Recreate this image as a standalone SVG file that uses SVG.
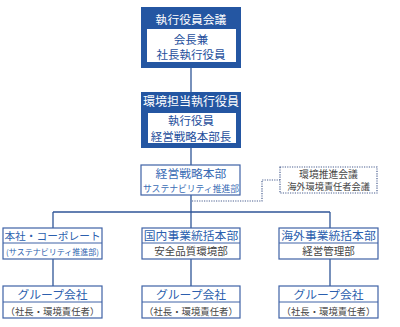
<svg xmlns="http://www.w3.org/2000/svg" width="400" height="327" viewBox="0 0 400 327">
<style>
text{font-family:"Noto Sans CJK JP","Noto Sans CJK SC",sans-serif;text-anchor:middle}
.dark{fill:#2456a2}
.white{fill:#fff}
.wt{fill:#fff;font-size:11.8px}
.bt{fill:#1f4f9c;font-size:11.5px}
.box{fill:#fff;stroke:#3e62a6;stroke-width:1.2}
.hd{fill:#2c5fae;font-size:11.8px}
.sub{fill:#444;font-size:10px}
.line{stroke:#2f5597;stroke-width:1.3;fill:none}
.div{stroke:#3e62a6;stroke-width:1}
.dot{stroke:#4a5f90;stroke-width:1.2;stroke-dasharray:1.2 1.2;fill:none}
</style>
<g id="connectors">
<line class="line" x1="191" y1="68" x2="191" y2="92"/>
<line class="line" x1="191" y1="148" x2="191" y2="165"/>
<line class="line" x1="191" y1="195" x2="191" y2="228"/>
<line class="line" x1="53" y1="212" x2="330" y2="212"/>
<line class="line" x1="53" y1="212" x2="53" y2="228"/>
<line class="line" x1="330" y1="212" x2="330" y2="228"/>
<line class="line" x1="53" y1="259" x2="53" y2="286"/>
<line class="line" x1="191" y1="259" x2="191" y2="286"/>
<line class="line" x1="330" y1="259" x2="330" y2="286"/>
<polyline class="dot" points="192,201 262,201 262,180 280,180"/>
</g>
<g id="exec-committee">
<rect class="dark" x="141" y="7" width="100" height="61"/>
<rect class="white" x="147" y="29" width="89" height="33"/>
<text class="wt" x="191" y="24">執行役員会議</text>
<text class="bt" x="191" y="43.5">会長兼</text>
<text class="bt" x="191" y="58.5">社長執行役員</text>
</g>
<g id="env-officer">
<rect class="dark" x="141" y="92" width="100" height="56"/>
<rect class="white" x="148" y="113" width="88" height="30"/>
<text class="wt" x="191" y="106" style="font-size:12px">環境担当執行役員</text>
<text class="bt" x="191" y="125">執行役員</text>
<text class="bt" x="191" y="140.5">経営戦略本部長</text>
</g>
<g id="strategy-hq">
<rect class="box" x="141" y="165" width="99" height="30"/>
<text class="hd" x="191" y="178" style="fill:#3a6cb5">経営戦略本部</text>
<text class="hd" x="191" y="192" style="font-size:8.8px;fill:#3a6cb5">サステナビリティ推進部</text>
</g>
<g id="env-meeting">
<rect class="dot" x="280" y="167" width="97" height="26"/>
<text class="sub" x="328.5" y="177.5" style="font-size:9.8px">環境推進会議</text>
<text class="sub" x="328.5" y="190" style="font-size:9.2px">海外環境責任者会議</text>
</g>
<g id="corporate">
<rect class="box" x="3" y="228" width="99" height="31"/>
<line class="div" x1="3" y1="243" x2="102" y2="243"/>
<text class="hd" x="52.5" y="240" style="font-size:10.7px">本社・コーポレート</text>
<text class="hd" x="52.5" y="255" style="font-size:8px">(サステナビリティ推進部)</text>
</g>
<g id="domestic">
<rect class="box" x="142" y="228" width="98" height="31"/>
<line class="div" x1="142" y1="243" x2="240" y2="243"/>
<text class="hd" x="191" y="240">国内事業統括本部</text>
<text class="sub" x="191" y="255" style="font-size:10.5px">安全品質環境部</text>
</g>
<g id="overseas">
<rect class="box" x="279" y="228" width="99" height="31"/>
<line class="div" x1="279" y1="243" x2="378" y2="243"/>
<text class="hd" x="328.5" y="240">海外事業統括本部</text>
<text class="sub" x="328.5" y="255" style="font-size:10.5px">経営管理部</text>
</g>
<g id="group-1">
<rect class="box" x="3" y="286" width="99" height="32"/>
<line class="div" x1="3" y1="302" x2="102" y2="302"/>
<text class="hd" x="52.5" y="299">グループ会社</text>
<text class="sub" x="52.5" y="315" style="font-size:9.4px">（社長・環境責任者）</text>
</g>
<g id="group-2">
<rect class="box" x="142" y="286" width="98" height="32"/>
<line class="div" x1="142" y1="302" x2="240" y2="302"/>
<text class="hd" x="191" y="299">グループ会社</text>
<text class="sub" x="191" y="315" style="font-size:9.4px">（社長・環境責任者）</text>
</g>
<g id="group-3">
<rect class="box" x="279" y="286" width="99" height="32"/>
<line class="div" x1="279" y1="302" x2="378" y2="302"/>
<text class="hd" x="328.5" y="299">グループ会社</text>
<text class="sub" x="328.5" y="315" style="font-size:9.4px">（社長・環境責任者）</text>
</g>
</svg>
